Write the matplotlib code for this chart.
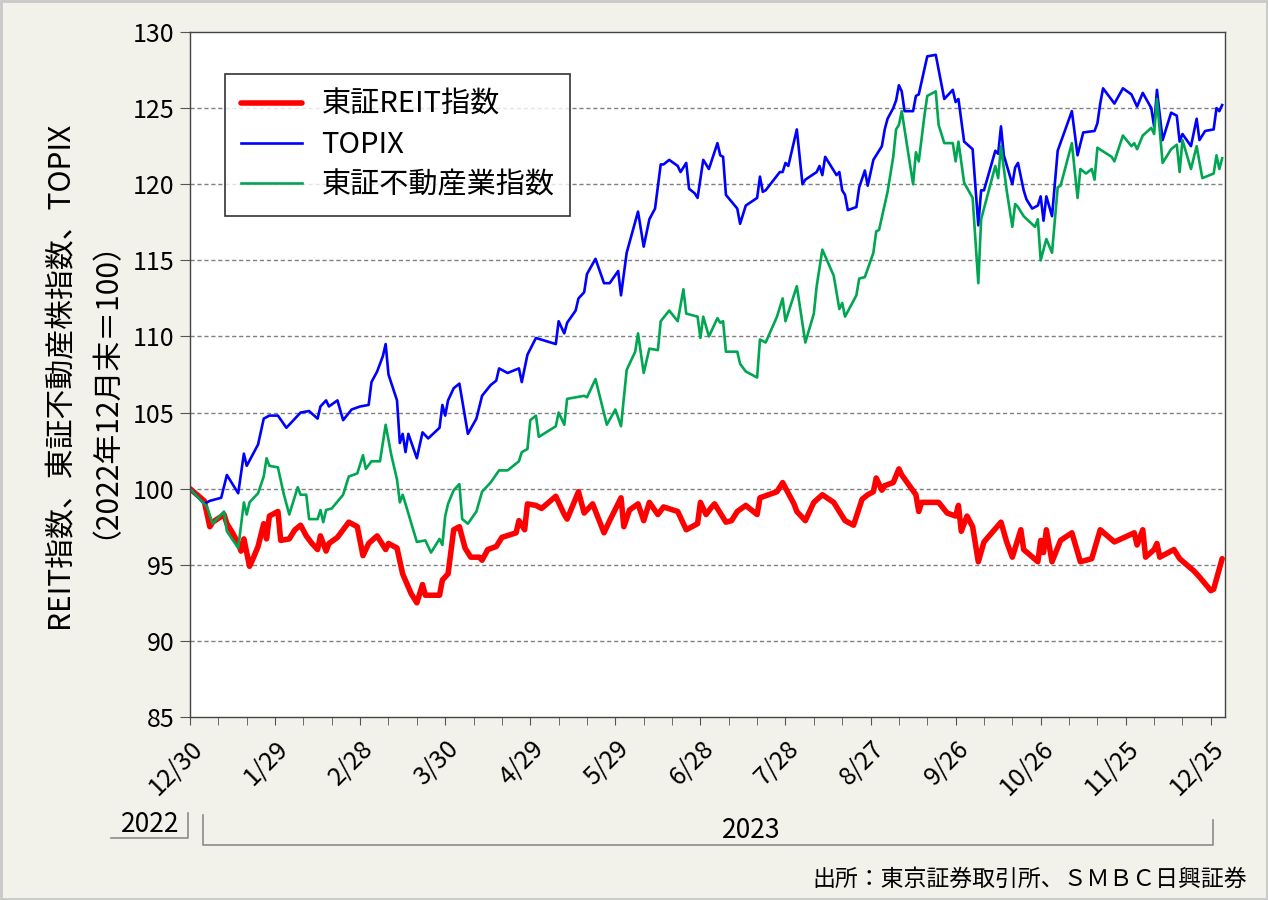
import numpy as np
import matplotlib
matplotlib.use("Agg")
import matplotlib.pyplot as plt
import matplotlib.dates as mdates
from matplotlib.lines import Line2D

plt.rcParams['font.family'] = ['Noto Sans CJK JP', 'DejaVu Sans']

# day offsets counted from 2022-12-30 (=100 base)
BASE = np.datetime64('2022-12-30')

reit_day = [0, 5, 7, 8, 12, 13, 15, 17, 18, 19, 21, 22, 24, 26, 27, 28, 31, 32, 35, 37,
            39, 41, 43, 45, 46, 48, 49, 52, 56, 59, 61, 63, 66, 69, 70, 73, 75, 78, 80, 82,
            83, 88, 89, 91, 93, 95, 97, 99, 102, 103, 105, 108, 110, 115, 116, 118, 119, 122, 124, 129,
            132, 133, 137, 139, 142, 146, 148, 152, 153, 155, 158, 160, 162, 165, 167, 172, 175, 179, 180, 182,
            184, 185, 189, 191, 193, 196, 200, 201, 207, 209, 213, 214, 217, 220, 223, 227, 229, 231, 234, 237,
            239, 241, 242, 244, 245, 248, 250, 251, 256, 257, 258, 264, 267, 270, 271, 272, 274, 276, 278, 280,
            286, 288, 290, 293, 294, 299, 300, 301, 302, 304, 307, 311, 314, 318, 321, 326, 333, 334, 336, 337,
            340, 341, 342, 347, 349, 354, 356, 360, 361, 364]
reit_val = [100.0, 99.2, 97.5, 97.8, 98.3, 97.7, 97.1, 96.4, 95.9, 96.7, 94.9, 95.3, 96.2, 97.7, 96.7, 98.2, 98.5, 96.6, 96.7, 97.3,
            97.6, 96.9, 96.4, 96.0, 96.9, 95.9, 96.4, 96.8, 97.8, 97.5, 95.6, 96.4, 96.9, 96.0, 96.4, 96.1, 94.4, 93.1, 92.5, 93.7,
            93.0, 93.0, 94.0, 94.4, 97.3, 97.5, 96.1, 95.5, 95.5, 95.3, 96.0, 96.2, 96.8, 97.1, 97.9, 97.3, 99.0, 98.9, 98.7, 99.5,
            98.3, 98.0, 99.8, 98.4, 99.0, 97.1, 97.9, 99.4, 97.5, 98.6, 99.0, 97.9, 99.1, 98.3, 98.8, 98.5, 97.3, 97.7, 99.1, 98.3,
            98.8, 99.0, 97.8, 97.9, 98.5, 98.9, 98.3, 99.4, 99.8, 100.4, 99.0, 98.5, 97.9, 99.1, 99.6, 99.1, 98.5, 97.9, 97.6, 99.3,
            99.6, 99.8, 100.7, 99.9, 100.2, 100.4, 101.3, 100.9, 99.6, 98.5, 99.1, 99.1, 98.4, 98.2, 98.9, 97.2, 98.2, 97.5, 95.2, 96.5,
            97.8, 96.5, 95.5, 97.3, 96.0, 95.2, 96.6, 95.8, 97.3, 95.2, 96.6, 97.1, 95.2, 95.4, 97.3, 96.5, 97.1, 96.3, 97.3, 95.5,
            96.0, 96.4, 95.5, 96.0, 95.4, 94.6, 94.2, 93.3, 93.4, 95.4]

topix_day = [0, 5, 7, 11, 13, 17, 19, 20, 24, 26, 28, 31, 34, 39, 42, 45, 46, 48, 49, 52,
             54, 57, 60, 63, 64, 66, 68, 69, 70, 73, 74, 75, 76, 77, 80, 82, 84, 88, 89, 90,
             91, 93, 95, 98, 101, 103, 106, 108, 109, 112, 116, 117, 119, 122, 129, 130, 132, 133, 136, 137,
             139, 140, 143, 146, 148, 151, 152, 154, 158, 160, 162, 164, 166, 167, 169, 172, 173, 175, 176, 178,
             179, 181, 183, 186, 187, 188, 189, 193, 194, 196, 200, 201, 202, 203, 208, 209, 210, 211, 214, 216,
             217, 221, 222, 223, 224, 228, 229, 230, 231, 232, 235, 236, 238, 239, 241, 244, 245, 246, 248, 249,
             250, 251, 252, 255, 256, 257, 260, 263, 266, 269, 270, 271, 273, 276, 278, 279, 280, 284, 285, 286,
             287, 290, 291, 292, 294, 295, 297, 299, 300, 301, 302, 304, 306, 311, 313, 315, 319, 320, 321, 322,
             326, 329, 332, 334, 336, 339, 340, 341, 343, 346, 348, 349, 350, 353, 355, 356, 358, 361, 362, 363,
             364]
topix_val = [100.0, 99.0, 99.2, 99.4, 100.9, 99.7, 102.3, 101.5, 102.9, 104.6, 104.8, 104.8, 104.0, 105.0, 105.1, 104.6, 105.4, 105.8, 105.4, 105.8,
             104.5, 105.2, 105.4, 105.5, 107.0, 107.7, 108.7, 109.5, 107.5, 105.8, 103.0, 103.6, 102.4, 103.6, 102.0, 103.7, 103.3, 104.0, 105.5, 104.8,
             105.8, 106.6, 106.9, 103.6, 104.6, 106.1, 106.8, 107.1, 107.9, 107.6, 107.9, 107.0, 108.8, 109.9, 109.5, 111.0, 110.2, 110.9, 111.7, 112.5,
             112.9, 114.1, 115.1, 113.5, 113.5, 114.3, 112.7, 115.5, 118.2, 115.9, 117.7, 118.4, 121.3, 121.3, 121.6, 121.2, 120.8, 121.4, 119.7, 119.4,
             119.1, 121.6, 121.0, 122.7, 121.9, 121.8, 119.3, 118.4, 117.4, 118.6, 119.1, 120.5, 119.5, 119.6, 120.8, 120.8, 121.4, 121.2, 123.6, 120.0,
             120.3, 120.8, 121.2, 120.6, 121.8, 120.6, 120.8, 119.6, 119.3, 118.3, 118.5, 119.8, 120.9, 119.9, 121.6, 122.5, 123.6, 124.3, 125.0, 125.5,
             126.5, 126.1, 124.8, 124.8, 125.8, 125.9, 128.4, 128.5, 125.6, 126.2, 125.4, 125.6, 122.8, 122.3, 117.3, 119.6, 119.6, 122.2, 122.0, 123.8,
             121.9, 120.0, 121.1, 121.4, 119.6, 119.0, 118.4, 118.6, 119.2, 117.6, 119.2, 117.9, 122.2, 124.8, 121.9, 123.4, 123.5, 124.0, 125.3, 126.3,
             125.3, 126.3, 125.9, 125.1, 126.0, 125.0, 123.8, 126.2, 122.9, 124.7, 124.5, 122.8, 123.3, 122.5, 124.3, 122.9, 123.5, 123.6, 125.0, 124.8,
             125.2]

realty_day = [0, 6, 8, 12, 13, 17, 19, 20, 21, 24, 26, 27, 28, 31, 33, 35, 38, 39, 41, 42,
              45, 46, 47, 48, 50, 54, 56, 59, 61, 62, 64, 67, 69, 71, 73, 74, 75, 76, 80, 83,
              85, 88, 89, 90, 91, 93, 95, 96, 98, 101, 103, 106, 109, 112, 116, 117, 119, 120, 122, 123,
              129, 130, 132, 133, 139, 140, 143, 147, 150, 152, 154, 157, 158, 160, 162, 165, 166, 169, 172, 174,
              175, 179, 180, 181, 183, 186, 187, 188, 189, 193, 194, 196, 200, 201, 203, 207, 209, 210, 214, 217,
              220, 221, 223, 227, 229, 230, 231, 235, 236, 238, 241, 242, 243, 246, 248, 249, 250, 251, 255, 256,
              257, 259, 260, 263, 264, 266, 269, 270, 271, 273, 276, 278, 279, 284, 285, 286, 288, 290, 291, 292,
              294, 298, 299, 300, 302, 304, 306, 307, 311, 313, 314, 316, 318, 319, 320, 325, 326, 329, 332, 333,
              334, 336, 339, 340, 341, 343, 346, 348, 349, 350, 353, 355, 357, 361, 362, 363, 364]
realty_val = [100.0, 98.8, 97.7, 98.5, 97.2, 96.1, 99.1, 98.3, 99.1, 99.7, 100.8, 102.0, 101.5, 101.4, 99.7, 98.3, 100.1, 99.6, 99.6, 98.0,
              98.0, 98.6, 97.8, 98.6, 98.7, 99.6, 100.8, 101.0, 102.2, 101.3, 101.8, 101.8, 104.2, 102.2, 100.6, 99.1, 99.6, 99.0, 96.5, 96.6,
              95.8, 96.7, 96.3, 98.2, 99.0, 99.9, 100.3, 98.0, 97.7, 98.5, 99.8, 100.4, 101.2, 101.2, 101.8, 102.4, 102.6, 104.5, 104.8, 103.4,
              104.1, 105.0, 104.2, 105.9, 106.1, 106.0, 107.2, 104.2, 105.2, 104.1, 107.8, 109.0, 110.2, 107.6, 109.2, 109.1, 111.0, 111.7, 111.0, 113.1,
              111.5, 111.3, 109.9, 111.3, 110.0, 111.2, 110.9, 111.0, 109.0, 109.0, 108.2, 107.7, 107.3, 109.8, 109.6, 111.3, 112.5, 111.0, 113.3, 109.6,
              111.5, 113.3, 115.7, 114.0, 111.8, 112.2, 111.3, 112.7, 113.8, 113.9, 115.5, 116.9, 117.0, 119.5, 121.8, 123.6, 123.9, 124.8, 120.0, 122.1,
              121.5, 124.5, 125.8, 126.1, 123.9, 122.7, 122.7, 121.5, 122.8, 120.1, 119.1, 113.5, 117.7, 121.2, 120.4, 122.5, 119.6, 117.2, 118.7, 118.5,
              117.9, 117.2, 117.7, 115.0, 116.4, 115.5, 119.8, 119.9, 122.7, 119.1, 121.0, 120.7, 121.0, 120.3, 122.4, 121.8, 121.5, 123.2, 122.5, 122.7,
              122.3, 123.2, 123.7, 123.3, 125.6, 121.4, 122.3, 122.6, 120.8, 122.9, 121.0, 122.5, 120.4, 120.7, 121.9, 121.0, 121.7]

SERIES_NAMES = ['東証REIT指数', 'TOPIX', '東証不動産業指数']
Y_LABEL = 'REIT指数、東証不動産株指数、TOPIX\n（2022年12月末＝100）'
SOURCE = '出所：東京証券取引所、ＳＭＢＣ日興証券'


def to_dates(days):
    return BASE + np.array(days).astype('timedelta64[D]')


BG = '#f2f1ea'
fig = plt.figure(figsize=(12.68, 9.0), dpi=100, facecolor=BG)
ax = fig.add_axes([190 / 1268, 1 - 717 / 900, (1225 - 190) / 1268, (717 - 32) / 900])
ax.set_facecolor('white')

ax.plot(to_dates(reit_day), reit_val, color='#ff0000', lw=4.0, label=SERIES_NAMES[0],
        solid_joinstyle='round', solid_capstyle='round')
ax.plot(to_dates(topix_day), topix_val, color='#0000ff', lw=1.9, label=SERIES_NAMES[1])
ax.plot(to_dates(realty_day), realty_val, color='#00a651', lw=1.9, label=SERIES_NAMES[2])

ax.set_ylim(85, 130)
ax.set_yticks(np.arange(85, 131, 5))
ax.set_xlim(BASE, BASE + np.timedelta64(365, 'D'))
for v in range(90, 130, 5):
    ax.axhline(v, color='#808080', lw=1.0, ls=(0, (3, 2)), zorder=0.5)

major = [BASE + np.timedelta64(30 * k, 'D') for k in range(13)]
minor = [BASE + np.timedelta64(10 * k, 'D') for k in range(37)]
ax.set_xticks(major)
ax.set_xticks(minor, minor=True)
ax.xaxis.set_major_formatter(mdates.DateFormatter('%-m/%-d'))
ax.tick_params(axis='x', which='both', direction='out', length=6, color='#555555')
ax.tick_params(axis='x', which='major', labelsize=18, pad=7)
ax.tick_params(axis='y', direction='out', length=7, labelsize=18, color='#555555', pad=4)
for lab in ax.get_xticklabels():
    lab.set_rotation(45)
    lab.set_ha('right')
    lab.set_rotation_mode('anchor')
for s in ax.spines.values():
    s.set_color('#444444')
    s.set_linewidth(1.0)

ax.set_ylabel(Y_LABEL, fontsize=21.5, linespacing=0.95, labelpad=20)

leg = ax.legend(loc='upper left', bbox_to_anchor=(0.034, 0.939), fontsize=21,
                frameon=True, fancybox=False, edgecolor='black', handlelength=2.1,
                handletextpad=0.65, labelspacing=0.35, borderpad=0.55, borderaxespad=0)
leg.get_frame().set_linewidth(1.2)

# year brackets below the axis
def fx(px):
    return px / 1268


def fy(py):
    return 1 - py / 900


gray = '#8c8c8c'
fig.add_artist(Line2D([fx(111), fx(188), fx(188)], [fy(838), fy(838), fy(813)], color=gray, lw=1.2))
fig.add_artist(Line2D([fx(203), fx(203), fx(1213), fx(1213)],
                      [fy(815), fy(845), fy(845), fy(820)], color=gray, lw=1.2))
fig.text(fx(150), fy(824), '2022', ha='center', va='center', fontsize=19)
fig.text(fx(751), fy(830), '2023', ha='center', va='center', fontsize=19)
fig.text(fx(1247), fy(879), SOURCE, ha='right', va='center', fontsize=16.5)

# outer border of the picture
fig.add_artist(plt.Rectangle((0.001, 0.001), 0.998, 0.998, transform=fig.transFigure,
                             fill=False, edgecolor='#c8c8c8', lw=2))

fig.savefig('out.png', dpi=100, facecolor=BG)
